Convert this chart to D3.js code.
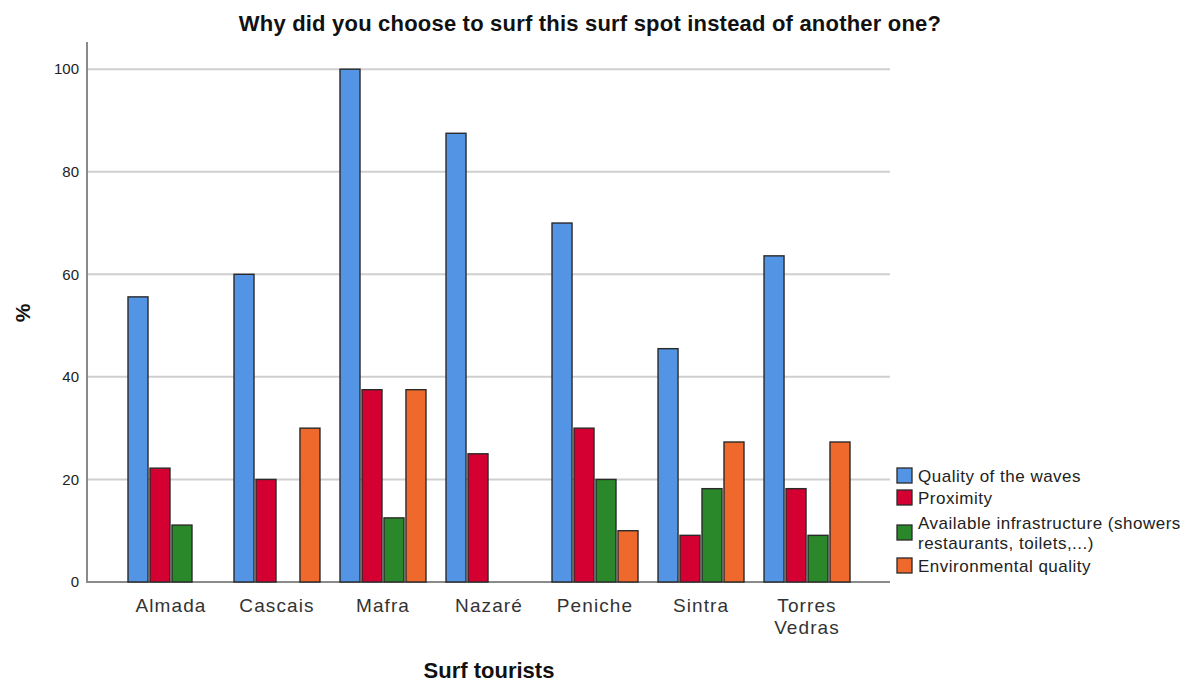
<!DOCTYPE html>
<html>
<head>
<meta charset="utf-8">
<script src="https://cdn.jsdelivr.net/npm/d3@7"></script>
<style>
  body { margin: 0; background: #fff; }
  svg { display: block; font-family: Arial, "Liberation Sans", sans-serif; }
</style>
</head>
<body>
<svg id="chart" width="1193" height="684"></svg>
<script>
// Surf spots and the share of surfers giving each reason (%)
const spots = ["Almada", "Cascais", "Mafra", "Nazaré", "Peniche", "Sintra", "Torres Vedras"];
const reasons = ["Quality of the waves", "Proximity", "Available infrastructure (showers restaurants, toilets,...)", "Environmental quality"];
const qualityOfWaves = [55.6, 60.0, 100.0, 87.5, 70.0, 45.5, 63.6];
const proximity = [22.2, 20.0, 37.5, 25.0, 30.0, 9.1, 18.2];
const infrastructure = [11.1, 0.0, 12.5, 0.0, 20.0, 18.2, 9.1];
const environmental = [0.0, 30.0, 37.5, 0.0, 10.0, 27.3, 27.3];
const yTicks = [0, 20, 40, 60, 80, 100];

const seriesValues = [qualityOfWaves, proximity, infrastructure, environmental];
const colors = ["#5394E4", "#D50032", "#2A882A", "#F0692C"];
const legendLines = [["Quality of the waves"], ["Proximity"], ["Available infrastructure (showers", "restaurants, toilets,...)"], ["Environmental quality"]];

const svg = d3.select("#chart");
const plot = { left: 87, right: 890, top: 42, bottom: 582 };

const y = d3.scaleLinear().domain([0, 105.3]).range([plot.bottom, plot.top]);
const x = d3.scaleBand().domain(spots).range([128, 850]).paddingInner(0.189).paddingOuter(0);
const xs = d3.scaleBand().domain(d3.range(reasons.length)).range([0, x.bandwidth()]).paddingInner(0.09);

// Gridlines
svg.append("g").selectAll("line").data(yTicks.filter(d => d > 0)).join("line")
  .attr("x1", plot.left).attr("x2", plot.right)
  .attr("y1", d => y(d)).attr("y2", d => y(d))
  .attr("stroke", "#cfcfcf").attr("stroke-width", 2);

// Y axis
const yAxis = svg.append("g").attr("transform", `translate(${plot.left},0)`)
  .call(d3.axisLeft(y).tickValues(yTicks).tickSize(0).tickPadding(8));
yAxis.select(".domain").remove();
yAxis.selectAll("text").attr("font-size", 15).attr("fill", "#222")
  .attr("font-family", "Arial, 'Liberation Sans', sans-serif");
svg.append("line").attr("x1", plot.left).attr("x2", plot.left)
  .attr("y1", plot.top).attr("y2", plot.bottom + 1)
  .attr("stroke", "#8a8a8a").attr("stroke-width", 2);

// X axis baseline (under the bars so empty categories show as a dark stub)
svg.append("line").attr("x1", plot.left).attr("x2", plot.right)
  .attr("y1", plot.bottom).attr("y2", plot.bottom)
  .attr("stroke", "#8a8a8a").attr("stroke-width", 2);

// Bars
const rows = [];
spots.forEach((s, i) => seriesValues.forEach((vals, k) => rows.push({ spot: s, k, v: vals[i] })));
svg.append("g").selectAll("rect").data(rows).join("rect")
  .attr("x", d => x(d.spot) + xs(d.k))
  .attr("width", xs.bandwidth())
  .attr("y", d => y(d.v))
  .attr("height", d => y(0) - y(d.v))
  .attr("fill", d => colors[d.k])
  .attr("stroke", "#2a2a2a").attr("stroke-width", 1.4);

// X tick labels (wrapped)
const xl = svg.append("g");
spots.forEach(s => {
  const words = s.split(" ");
  const cx = x(s) + x.bandwidth() / 2;
  const t = xl.append("text").attr("x", cx).attr("y", 612)
    .attr("text-anchor", "middle").attr("font-size", 19).attr("letter-spacing", 1.1).attr("fill", "#333");
  words.forEach((w, i) => t.append("tspan").attr("x", cx).attr("dy", i ? 22 : 0).text(w));
});

// Titles
svg.append("text").attr("x", 590).attr("y", 31).attr("text-anchor", "middle")
  .attr("font-size", 22).attr("font-weight", "bold").attr("letter-spacing", 0.2).attr("fill", "#111")
  .text("Why did you choose to surf this surf spot instead of another one?");
svg.append("text").attr("x", 489).attr("y", 678).attr("text-anchor", "middle")
  .attr("font-size", 22).attr("font-weight", "bold").attr("fill", "#111")
  .text("Surf tourists");
svg.append("text").attr("transform", "translate(30,313) rotate(-90)").attr("text-anchor", "middle")
  .attr("font-size", 21).attr("font-weight", "bold").attr("fill", "#111").text("%");

// Legend
const legendY = [476, 498, 533, 566];
const lg = svg.append("g");
reasons.forEach((r, k) => {
  lg.append("rect").attr("x", 897).attr("y", legendY[k] - 8).attr("width", 15).attr("height", 15)
    .attr("fill", colors[k]).attr("stroke", "#2a2a2a").attr("stroke-width", 1.3);
  const lines = legendLines[k];
  const t = lg.append("text").attr("font-size", 17).attr("letter-spacing", 0.5).attr("fill", "#222");
  lines.forEach((ln, i) => {
    const off = lines.length === 1 ? 0 : (i === 0 ? -10 : 10);
    t.append("tspan").attr("x", 918).attr("y", legendY[k] + off + 6).text(ln);
  });
});
</script>
</body>
</html>
